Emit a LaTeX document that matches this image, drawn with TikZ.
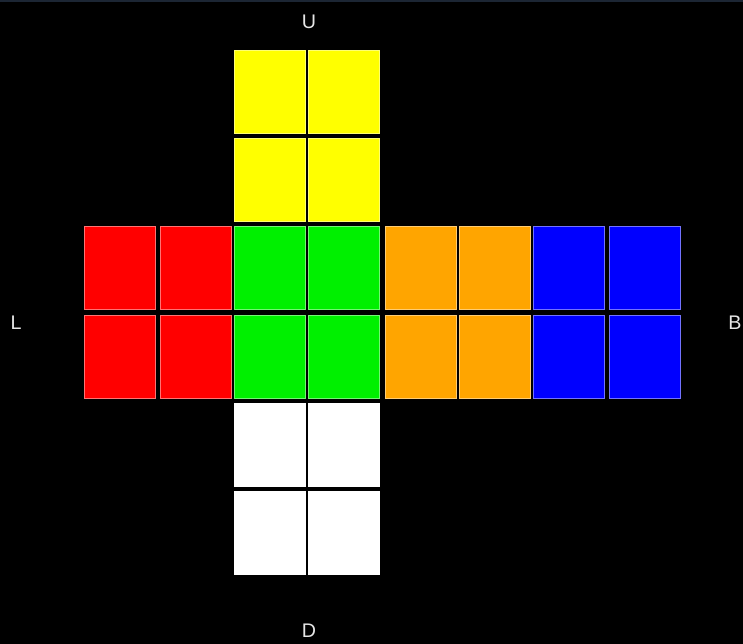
\documentclass[tikz,border=0pt]{standalone}
\usepackage{fontspec}
\setmainfont{Liberation Sans}
\usepackage{xcolor}
\usepackage{tikz}

\definecolor{cubered}{HTML}{FF0000}
\definecolor{cubegreen}{HTML}{00F000}
\definecolor{cubeyellow}{HTML}{FFFF00}
\definecolor{cubeorange}{HTML}{FFA500}
\definecolor{cubeblue}{HTML}{0000FF}
\definecolor{cubewhite}{HTML}{FFFFFF}
\definecolor{labelgray}{HTML}{E6E6E6}
\definecolor{topline}{HTML}{1C2634}

\begin{document}
\begin{tikzpicture}[x=0.025cm, y=-0.025cm,
      sticker/.style={draw=#1!55!white, line width=0.5pt, fill=#1, rectangle,
                      minimum width=1.78cm, minimum height=2.09cm, inner sep=0pt},
      facelabel/.style={text=labelgray, font=\fontsize{14}{16}\selectfont}]
    % black background and window edge
    \fill[black] (0,0) rectangle (743,644);
    \useasboundingbox (0,0) rectangle (743,644);
    \fill[topline] (0,0) rectangle (743,2);

    % up face
    \foreach \c/\x in {1/270, 2/344}
      \foreach \r/\y in {1/92, 2/180}
        \node[sticker=cubeyellow] (u\r\c) at (\x,\y) {};

    % middle belt: left, front, right, back
    \foreach \c/\x/\col in {1/120/cubered, 2/196/cubered, 3/270/cubegreen, 4/344/cubegreen,
                            5/421/cubeorange, 6/495/cubeorange, 7/569/cubeblue, 8/645/cubeblue}
      \foreach \r/\y in {1/268, 2/357}
        \node[sticker=\col] (m\r\c) at (\x,\y) {};

    % down face
    \foreach \c/\x in {1/270, 2/344}
      \foreach \r/\y in {1/445, 2/533}
        \node[sticker=cubewhite] (d\r\c) at (\x,\y) {};

    % face names
    \node[facelabel] (lblU) at (309,22) {U};
    \node[facelabel] (lblL) at (16,323) {L};
    \node[facelabel] (lblB) at (735,323) {B};
    \node[facelabel] (lblD) at (309,631) {D};
  \end{tikzpicture}
\end{document}
